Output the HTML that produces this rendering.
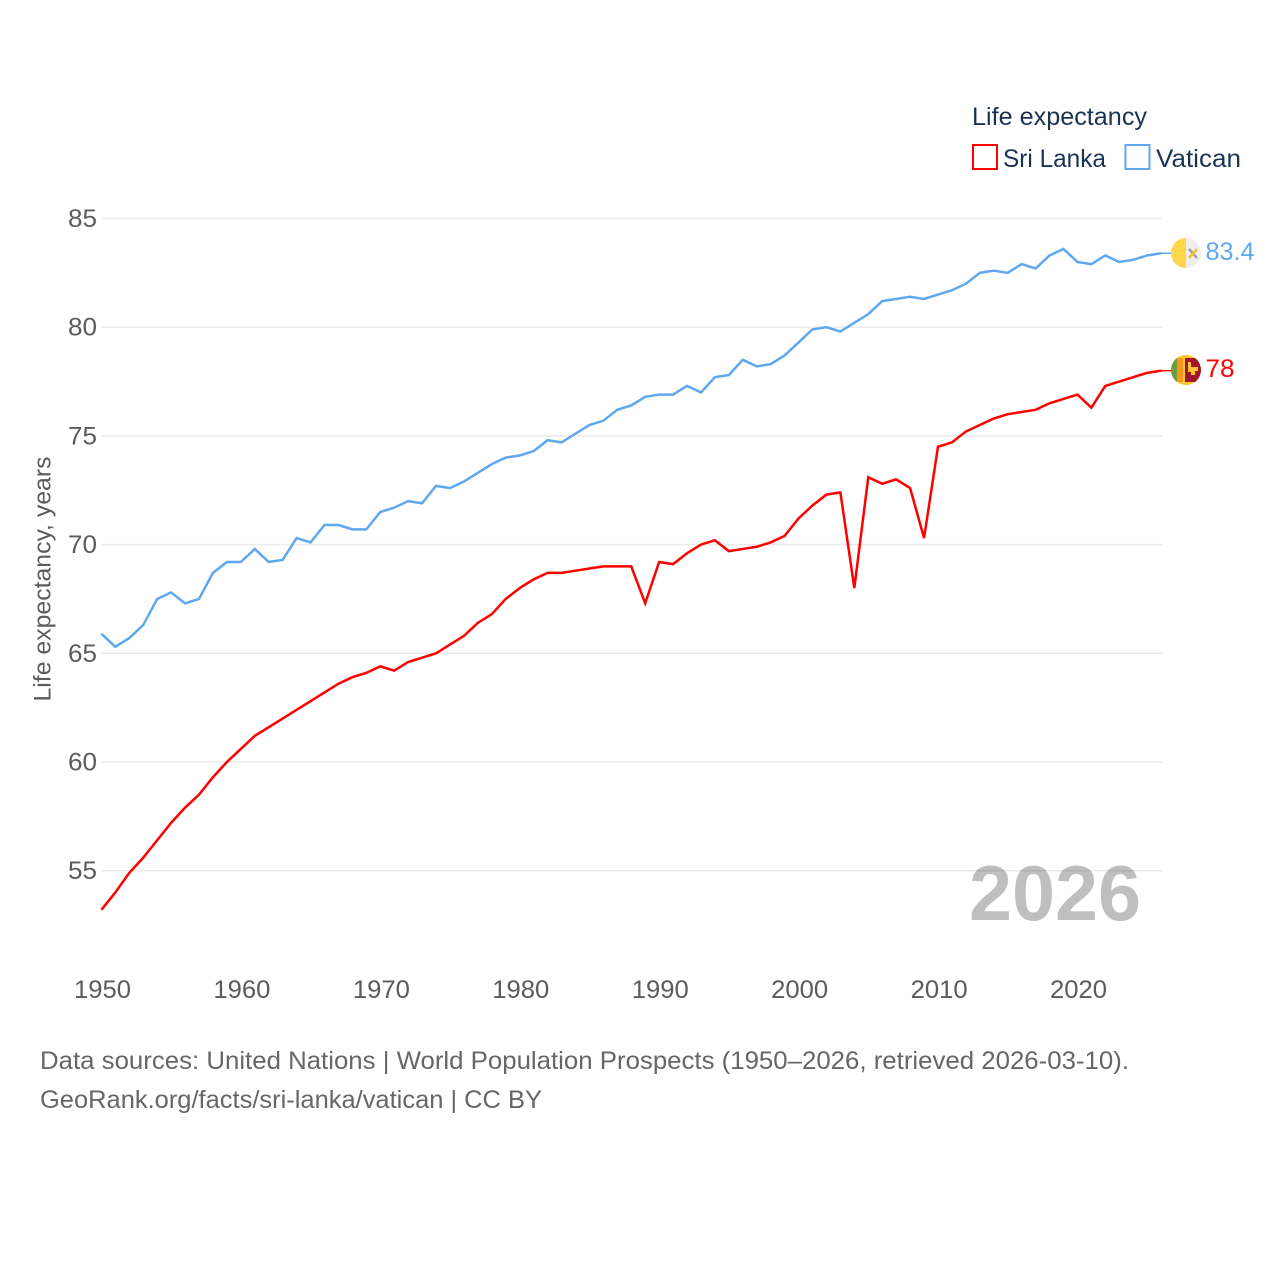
<!DOCTYPE html>
<html lang="en">
<head>
<meta charset="utf-8">
<title>Life expectancy: Sri Lanka and Vatican</title>
<style>
html,body{margin:0;padding:0;background:#fff;width:1280px;height:1280px;overflow:hidden}
svg{display:block}
text{font-family:"Liberation Sans",sans-serif}
</style>
</head>
<body>
<svg id="chart" width="1280" height="1280" viewBox="0 0 1280 1280" xmlns="http://www.w3.org/2000/svg">
  <defs>
    <clipPath id="flag-clip-va"><circle cx="1186" cy="253" r="15"/></clipPath>
    <clipPath id="flag-clip-lk"><circle cx="1186" cy="370" r="15"/></clipPath>
  </defs>
  <g id="grid"></g>
  <g id="yticks"></g>
  <g id="xticks"></g>
  <text transform="translate(50.500,579) rotate(-90)" text-anchor="middle" font-size="24" fill="#5b5b5b" textLength="245" lengthAdjust="spacingAndGlyphs">Life expectancy, years</text>
  <text x="969" y="920" font-size="78" font-weight="700" fill="#000" fill-opacity="0.25" textLength="172" lengthAdjust="spacingAndGlyphs">2026</text>
  <g id="series"></g>

  <g clip-path="url(#flag-clip-va)">
    <rect x="1171" y="238" width="15" height="30" fill="#ffd648"/>
    <rect x="1186" y="238" width="15" height="30" fill="#eeeeee"/>
    <path d="M1189 249l8 9" stroke="#a0a0a0" stroke-width="2.500"/>
    <path d="M1197 249l-8 9" stroke="#f2c230" stroke-width="2.500"/>
  </g>
  <g clip-path="url(#flag-clip-lk)">
    <rect x="1171" y="355" width="30" height="30" fill="#ffc72c"/>
    <rect x="1171" y="358" width="6" height="24" fill="#6a9e3f"/>
    <rect x="1177" y="358" width="6" height="24" fill="#f7981d"/>
    <rect x="1185" y="358" width="16" height="24" fill="#a0152b"/>
    <path d="M1188 362h3v5h7v4h-3v4h-4v-3h-3z" fill="#ffc72c"/>
  </g>
  <text x="1205.500" y="260" font-size="25" fill="#5fa8f0" textLength="49" lengthAdjust="spacingAndGlyphs">83.4</text>
  <text x="1205.500" y="377" font-size="25" fill="#ff0000" textLength="29" lengthAdjust="spacingAndGlyphs">78</text>

  <g>
    <text x="972" y="125" font-size="25" fill="#1a3353" textLength="175" lengthAdjust="spacingAndGlyphs">Life expectancy</text>
    <rect x="973" y="145" width="24" height="24" fill="none" stroke="#ff0000" stroke-width="2"/>
    <text x="1003" y="167" font-size="25" fill="#1a3353" textLength="103" lengthAdjust="spacingAndGlyphs">Sri Lanka</text>
    <rect x="1125.500" y="145" width="24" height="24" fill="none" stroke="#5fa8f0" stroke-width="2"/>
    <text x="1156" y="167" font-size="25" fill="#1a3353" textLength="85" lengthAdjust="spacingAndGlyphs">Vatican</text>
  </g>

  <text x="40" y="1069" font-size="25" fill="#666666" textLength="1089" lengthAdjust="spacingAndGlyphs">Data sources: United Nations | World Population Prospects (1950–2026, retrieved 2026-03-10).</text>
  <text x="40" y="1108" font-size="25" fill="#666666" textLength="502" lengthAdjust="spacingAndGlyphs">GeoRank.org/facts/sri-lanka/vatican | CC BY</text>
</svg>
<script>
const years = [1950,1951,1952,1953,1954,1955,1956,1957,1958,1959,1960,1961,1962,1963,1964,1965,1966,1967,1968,1969,1970,1971,1972,1973,1974,1975,1976,1977,1978,1979,1980,1981,1982,1983,1984,1985,1986,1987,1988,1989,1990,1991,1992,1993,1994,1995,1996,1997,1998,1999,2000,2001,2002,2003,2004,2005,2006,2007,2008,2009,2010,2011,2012,2013,2014,2015,2016,2017,2018,2019,2020,2021,2022,2023,2024,2025,2026];
const vatican = [65.9,65.3,65.7,66.3,67.5,67.8,67.3,67.5,68.7,69.2,69.2,69.8,69.2,69.3,70.3,70.1,70.9,70.9,70.7,70.7,71.5,71.7,72.0,71.9,72.7,72.6,72.9,73.3,73.7,74.0,74.1,74.3,74.8,74.7,75.1,75.5,75.7,76.2,76.4,76.8,76.9,76.9,77.3,77.0,77.7,77.8,78.5,78.2,78.3,78.7,79.3,79.9,80.0,79.8,80.2,80.6,81.2,81.3,81.4,81.3,81.5,81.7,82.0,82.5,82.6,82.5,82.9,82.7,83.3,83.6,83.0,82.9,83.3,83.0,83.1,83.3,83.4];
const sriLanka = [53.2,54.0,54.9,55.6,56.4,57.2,57.9,58.5,59.3,60.0,60.6,61.2,61.6,62.0,62.4,62.8,63.2,63.6,63.9,64.1,64.4,64.2,64.6,64.8,65.0,65.4,65.8,66.4,66.8,67.5,68.0,68.4,68.7,68.7,68.8,68.9,69.0,69.0,69.0,67.3,69.2,69.1,69.6,70.0,70.2,69.7,69.8,69.9,70.1,70.4,71.2,71.8,72.3,72.4,68.0,73.1,72.8,73.0,72.6,70.3,74.5,74.7,75.2,75.5,75.8,76.0,76.1,76.2,76.5,76.7,76.9,76.3,77.3,77.5,77.7,77.9,78.0];
const yTickValues = [55,60,65,70,75,80,85];
const xTickValues = [1950,1960,1970,1980,1990,2000,2010,2020];

const NS = 'http://www.w3.org/2000/svg';
function xScale(year){ return 101.4 + (year - 1950) * 13.943; }
function yScale(value){ return 218.5 + (85 - value) * 21.74; }

const grid = document.getElementById('grid');
const yticks = document.getElementById('yticks');
const xticks = document.getElementById('xticks');
const seriesGroup = document.getElementById('series');

yTickValues.forEach(function(v){
  const line = document.createElementNS(NS, 'line');
  
  
  line.setAttribute('x1', 102);
  line.setAttribute('x2', 1162);
  line.setAttribute('y1', yScale(v));
  line.setAttribute('y2', yScale(v));
  line.setAttribute('stroke', '#ebebeb');
  line.setAttribute('stroke-width', 1.5);
  grid.appendChild(line);

  const label = document.createElementNS(NS, 'text');
  
  
  label.setAttribute('x', 97);
  label.setAttribute('y', yScale(v) + 8.500);
  label.setAttribute('text-anchor', 'end');
  label.setAttribute('font-size', 25);
  label.setAttribute('fill', '#5b5b5b');
  label.setAttribute('textLength', 29);
  label.setAttribute('lengthAdjust', 'spacingAndGlyphs');
  label.textContent = String(v);
  yticks.appendChild(label);
});

xTickValues.forEach(function(t){
  const label = document.createElementNS(NS, 'text');
  
  
  label.setAttribute('x', xScale(t) + 1.1);
  label.setAttribute('y', 998);
  label.setAttribute('text-anchor', 'middle');
  label.setAttribute('font-size', 25);
  label.setAttribute('fill', '#5b5b5b');
  label.setAttribute('textLength', 57);
  label.setAttribute('lengthAdjust', 'spacingAndGlyphs');
  label.textContent = String(t);
  xticks.appendChild(label);
});

function drawSeries(values, color, name){
  const pts = values.map(function(v, i){
    return xScale(years[i]).toFixed(2) + ',' + yScale(v).toFixed(2);
  }).join(' ');
  const line = document.createElementNS(NS, 'polyline');
  
  
  line.setAttribute('points', pts);
  line.setAttribute('fill', 'none');
  line.setAttribute('stroke', color);
  line.setAttribute('stroke-width', 2.5);
  line.setAttribute('stroke-linejoin', 'miter');
  seriesGroup.appendChild(line);

  const lastX = xScale(years[years.length - 1]);
  const lastY = yScale(values[values.length - 1]);
  const connector = document.createElementNS(NS, 'line');
  
  
  connector.setAttribute('x1', lastX);
  connector.setAttribute('x2', lastX + 10);
  connector.setAttribute('y1', lastY);
  connector.setAttribute('y2', lastY);
  connector.setAttribute('stroke', color);
  connector.setAttribute('stroke-width', 1.5);
  seriesGroup.appendChild(connector);
}
drawSeries(vatican, '#5fa8f0', 'vatican');
drawSeries(sriLanka, '#ff0000', 'sri-lanka');
</script>
</body>
</html>
